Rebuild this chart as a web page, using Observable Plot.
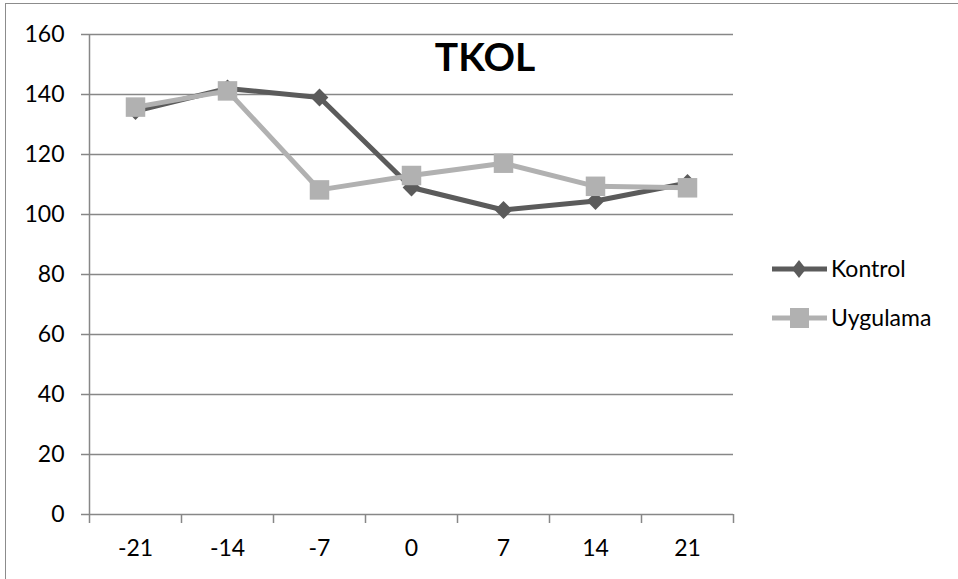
<!DOCTYPE html>
<html><head><meta charset="utf-8">
<script src="https://cdn.jsdelivr.net/npm/d3@7"></script>
<script src="https://cdn.jsdelivr.net/npm/@observablehq/plot@0.6"></script>
<style>
html,body{margin:0;padding:0;background:#fff;overflow:hidden}
#wrap{position:relative;width:958px;height:579px;font-family:Lato,sans-serif}
#frame{position:absolute;left:5px;top:3px;width:1000px;height:700px;border:1.5px solid #8c8c8c;box-sizing:border-box}
#chart{position:absolute;left:0;top:0}
#overlay{position:absolute;left:0;top:0;pointer-events:none}
</style>
</head><body>
<div id="wrap"><div id="frame"></div><div id="chart"></div><svg id="overlay" width="958" height="579"></svg></div>
<script>
const title = "TKOL";
const days = [-21, -14, -7, 0, 7, 14, 21];
const kontrol = [134.5, 142, 139, 109, 101.5, 104.5, 110.5];
const uygulama = [135.8, 141.2, 108.2, 113, 117.1, 109.4, 108.9];
const yTicks = [0, 20, 40, 60, 80, 100, 120, 140, 160];
const seriesNames = ["Kontrol", "Uygulama"];
const colors = {Kontrol: "#5b5b5b", Uygulama: "#b1b1b1"};

const half = (days[1] - days[0]) / 2;
const bounds = days.map(d => d - half).concat([days[days.length - 1] + half]);

const kData = days.map((d, i) => ({day: d, value: kontrol[i]}));
const uData = days.map((d, i) => ({day: d, value: uygulama[i]}));
const gridColor = "#878787";
const fs = 23;

const chart = Plot.plot({
  width: 958, height: 579,
  marginLeft: 89, marginRight: 225, marginTop: 34, marginBottom: 65,
  x: {domain: [bounds[0], bounds[bounds.length - 1]]},
  y: {domain: [0, 160]},
  style: {fontFamily: "Lato, sans-serif", fontSize: fs + "px", color: "#000", background: "transparent", overflow: "visible"},
  marks: [
    Plot.gridY(yTicks, {stroke: gridColor, strokeOpacity: 1, strokeWidth: 1.5}),
    Plot.ruleX([bounds[0]], {stroke: gridColor, strokeWidth: 1.5}),
    Plot.axisY(yTicks, {tickSize: 8, tickPadding: 17, stroke: gridColor, strokeWidth: 1.5, label: null, fontSize: fs}),
    Plot.axisX(bounds, {tickSize: 9, tickFormat: () => "", stroke: gridColor, strokeWidth: 1.5, label: null}),
    Plot.axisX(days, {tickSize: 0, tickPadding: 25, label: null, fontSize: fs, tickFormat: d => String(d).replace("−", "-")}),
    Plot.line(kData, {x: "day", y: "value", stroke: colors.Kontrol, strokeWidth: 5}),
    Plot.dot(kData, {x: "day", y: "value", symbol: "diamond2", r: 8, fill: colors.Kontrol, stroke: "none"}),
    Plot.line(uData, {x: "day", y: "value", stroke: colors.Uygulama, strokeWidth: 5}),
    Plot.dot(uData, {x: "day", y: "value", symbol: "square", r: 11, fill: colors.Uygulama, stroke: "none"})
  ]
});
document.getElementById("chart").appendChild(chart);

// Title and legend overlay
const ov = d3.select("#overlay");
ov.append("text").attr("x", 485).attr("y", 71).attr("text-anchor", "middle")
  .attr("font-family", "Lato, sans-serif").attr("font-weight", "bold").attr("font-size", 39).text(title);

const legendY = [269, 318];
seriesNames.forEach((name, i) => {
  const g = ov.append("g").attr("transform", `translate(772,${legendY[i]})`);
  g.append("line").attr("x1", 0).attr("x2", 55).attr("y1", 0).attr("y2", 0)
    .attr("stroke", colors[name]).attr("stroke-width", 5);
  if (i === 0) {
    g.append("path").attr("d", "M27,-9L34,0L27,9L20,0Z").attr("fill", colors[name]);
  } else {
    g.append("rect").attr("x", 18).attr("y", -10).attr("width", 19).attr("height", 20).attr("fill", colors[name]);
  }
  g.append("text").attr("x", 59).attr("y", 8).attr("font-family", "Lato, sans-serif")
    .attr("font-size", fs).attr("fill", "#000").text(name);
});
</script>
</body></html>
